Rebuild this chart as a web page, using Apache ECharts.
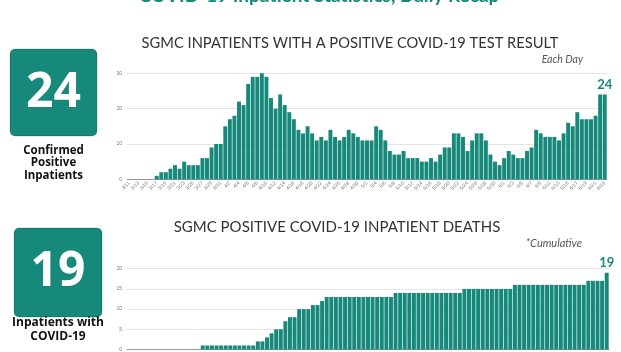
<!DOCTYPE html>
<html>
<head>
<meta charset="utf-8">
<script src="https://cdn.jsdelivr.net/npm/echarts@6/dist/echarts.min.js"></script>
<style>
html,body{margin:0;padding:0;background:#fff;}
#c{width:621px;height:352px;}
</style>
</head>
<body>
<div id="c"></div>
<script>
const dates = [
'3/11','3/12','3/13','3/14','3/15','3/16','3/17','3/18','3/19','3/20','3/21','3/22','3/23','3/24','3/25','3/26','3/27','3/28','3/29','3/30','3/31',
'4/1','4/2','4/3','4/4','4/5','4/6','4/7','4/8','4/9','4/10','4/11','4/12','4/13','4/14','4/15','4/16','4/17','4/18','4/19','4/20','4/21','4/22','4/23','4/24','4/25','4/26','4/27','4/28','4/29','4/30',
'5/1','5/2','5/3','5/4','5/5','5/6','5/7','5/8','5/9','5/10','5/11','5/12','5/13','5/14','5/15','5/16','5/17','5/18','5/19','5/20','5/21','5/22','5/23','5/24','5/25','5/26','5/27','5/28','5/29','5/30','5/31',
'6/1','6/2','6/3','6/4','6/5','6/6','6/7','6/8','6/9','6/10','6/11','6/12','6/13','6/14','6/15','6/16','6/17','6/18','6/19','6/20','6/21','6/22','6/23'
];
const inpatients = [
0,0,0,0,0,0,1,2,2,3,4,3,5,4,4,4,6,6,9,10,10,15,17,18,22,21,
27,29,29,30,29,23,20,24,21,19,17,14,13,15,13,11,12,11,14,12,11,12,14,13,12,
11,11,11,
15,14,11,8,7,7,8,6,6,6,5,5,6,5,7,9,9,13,13,12,8,11,13,13,11,7,5,4,6,8,7,6,6,8,9,14,13,12,12,12,11,13,16,15,19,17,17,17,18,24,24
];
const deaths = [
0,0,0,0,0,0,0,0,0,0,0,0,0,0,0,0,
1,1,1,1,1,1,1,1,1,1,1,1,
2,2,3,4,5,5,7,8,8,10,10,10,11,11,12,
13,13,13,13,13,13,13,13,13,13,13,13,13,13,13,
14,14,14,14,14,14,14,14,14,14,14,14,14,14,14,
15,15,15,15,15,15,15,15,15,15,15,
16,16,16,16,16,16,16,16,16,16,16,16,16,16,16,16,
17,17,17,17,
19
];
const yTicksTop = {min:0, max:30, interval:10};
const yTicksBottom = {min:0, max:20, interval:5};

const teal = '#17897a';
const chart = echarts.init(document.getElementById('c'), null, {renderer:'canvas'});
const lastLabel = (v, n) => ({
  show: true, position: 'top', distance: 3,
  formatter: p => p.dataIndex === n - 1 ? String(v[n-1]) : '',
  color: teal, fontWeight: 'bold', fontSize: 13, fontFamily: 'Lato'
});
chart.setOption({
  animation: false,
  backgroundColor: '#fff',
  grid: [
    {left:127, right:14, top:73.3, bottom:172.7},
    {left:127, right:12, top:268.7, bottom:1.7}
  ],
  xAxis: [
    {type:'category', gridIndex:0, data:dates,
     axisLine:{lineStyle:{color:'#999', width:1}}, axisTick:{show:false},
     axisLabel:{interval:1, rotate:45, fontSize:5, color:'#777', margin:3}},
    {type:'category', gridIndex:1, data:dates,
     axisLine:{lineStyle:{color:'#999', width:1}}, axisTick:{show:false},
     axisLabel:{show:false}}
  ],
  yAxis: [
    {type:'value', gridIndex:0, ...yTicksTop,
     axisLabel:{fontSize:5, color:'#777', margin:5},
     splitLine:{lineStyle:{color:'#e4e4e4'}}},
    {type:'value', gridIndex:1, ...yTicksBottom,
     axisLabel:{fontSize:5, color:'#777', margin:5},
     splitLine:{lineStyle:{color:'#e4e4e4'}}}
  ],
  series: [
    {type:'bar', xAxisIndex:0, yAxisIndex:0, data:inpatients, barCategoryGap:'14%',
     itemStyle:{color:teal}, label:lastLabel(inpatients, inpatients.length)},
    {type:'bar', xAxisIndex:1, yAxisIndex:1, data:deaths, barCategoryGap:'14%',
     itemStyle:{color:teal}, label:lastLabel(deaths, deaths.length)}
  ],
  graphic: [
    {type:'text', x:319, y:5, style:{text:'COVID-19 Inpatient Statistics, Daily Recap', fill:teal, font:'bold 19px Lato', textAlign:'center', textVerticalAlign:'bottom'}},
    {type:'text', x:350, y:43, style:{text:'SGMC INPATIENTS WITH A POSITIVE COVID-19 TEST RESULT', fill:'#333', font:'14.7px Lato', textAlign:'center', textVerticalAlign:'middle'}},
    {type:'text', x:583, y:60, style:{text:'Each Day', fill:'#555', font:'italic 10.5px Lato', textAlign:'right', textVerticalAlign:'middle'}},
    {type:'text', x:337, y:227, style:{text:'SGMC POSITIVE COVID-19 INPATIENT DEATHS', fill:'#333', font:'15px Lato', textAlign:'center', textVerticalAlign:'middle'}},
    {type:'text', x:582, y:243, style:{text:'*Cumulative', fill:'#555', font:'italic 11px Lato', textAlign:'right', textVerticalAlign:'middle'}},
    {type:'rect', shape:{x:10, y:49, width:87, height:87, r:5}, style:{fill:teal, stroke:'rgba(0,0,0,0.18)', lineWidth:1}},
    {type:'text', x:53.5, y:93, style:{text:'24', fill:'#fff', font:'bold 48px "Open Sans"', textAlign:'center', textVerticalAlign:'middle'}},
    {type:'text', x:53.5, y:163, style:{text:'Confirmed\nPositive\nInpatients', fill:'#111', font:'bold 11.5px "Open Sans"', textAlign:'center', textVerticalAlign:'middle', lineHeight:12.5}},
    {type:'rect', shape:{x:14, y:228, width:88, height:89, r:5}, style:{fill:teal, stroke:'rgba(0,0,0,0.18)', lineWidth:1}},
    {type:'text', x:58, y:272, style:{text:'19', fill:'#fff', font:'bold 48px "Open Sans"', textAlign:'center', textVerticalAlign:'middle'}},
    {type:'text', x:58, y:330, style:{text:'Inpatients with\nCOVID-19', fill:'#111', font:'bold 12px "Open Sans"', textAlign:'center', textVerticalAlign:'middle', lineHeight:14}}
  ]
});
</script>
</body>
</html>
